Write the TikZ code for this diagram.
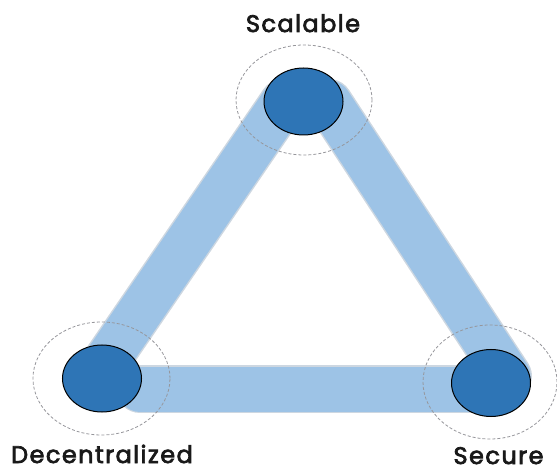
\documentclass[tikz,border=0pt]{standalone}
\usepackage{fontspec}
\setmainfont{Poppins}[LetterSpace=6]
\usetikzlibrary{shapes.geometric}
\definecolor{bandblue}{RGB}{157,195,230}
\definecolor{bandedge}{RGB}{205,215,225}
\definecolor{nodeblue}{RGB}{46,117,182}
\definecolor{ringgray}{RGB}{150,150,155}
\newcommand{\heavytext}[1]{\special{pdf:literal 2 Tr 0.7 w}#1\special{pdf:literal 0 Tr}}
\begin{document}
\begin{tikzpicture}[x=1pt,y=-1pt,
  bandout/.style={line width=48pt,line cap=round,draw=bandedge},
  bandin/.style={line width=45pt,line cap=round,draw=bandblue},
  ring/.style={ellipse,draw=ringgray,dashed,dash pattern=on 3pt off 2pt,line width=0.8pt,inner sep=0pt},
  vertex/.style={ellipse,draw=black,line width=1pt,fill=nodeblue,minimum width=79pt,minimum height=67pt,inner sep=0pt},
  lbl/.style={font=\fontsize{24}{26}\selectfont,anchor=base,text=black!90,inner sep=0pt}]
\useasboundingbox (0,0) rectangle (557,470);
% band end coordinates
\coordinate (bl1) at (140,389);
\coordinate (bl2) at (480,389);
\coordinate (ll1) at (99,372);
\coordinate (ll2) at (283,103);
\coordinate (rl1) at (329,103);
\coordinate (rl2) at (508,376);
% bands
\foreach \a/\b in {bl1/bl2,ll1/ll2,rl1/rl2}{
  \draw[bandout] (\a) -- (\b);
  \draw[bandin] (\a) -- (\b);
}
% dashed rings
\node[ring,minimum width=136pt,minimum height=110pt] (rS) at (304,100) {};
\node[ring,minimum width=137pt,minimum height=113pt] (rD) at (101.5,378.5) {};
\node[ring,minimum width=134pt,minimum height=114pt] (rC) at (490,382) {};
% vertices
\node[vertex] (S) at (303.5,101.5) {};
\node[vertex] (D) at (102,378.5) {};
\node[vertex] (C) at (491,383) {};
% labels
\node[lbl] (tS) at (303,32) {\heavytext{Scalable}};
\node[lbl] (tD) at (102,463) {\heavytext{Decentralized}};
\node[lbl] (tC) at (498.5,464) {\heavytext{Secure}};
\end{tikzpicture}
\end{document}
